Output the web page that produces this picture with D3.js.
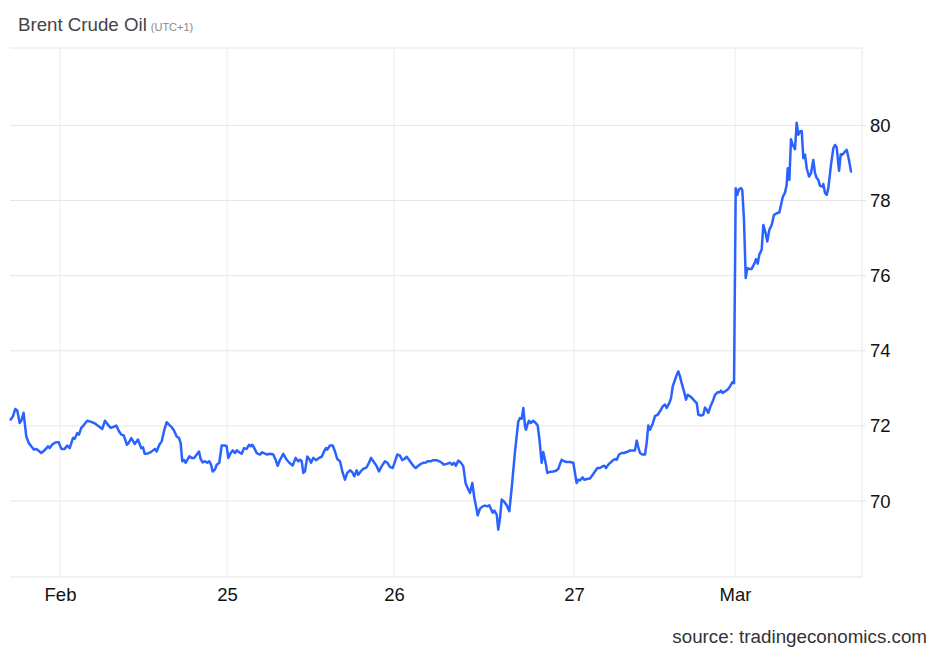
<!DOCTYPE html>
<html>
<head>
<meta charset="utf-8">
<script src="https://cdn.jsdelivr.net/npm/d3@7"></script>
<style>
  body { margin: 0; background: #ffffff; }
  text { font-family: "Liberation Sans", Arial, sans-serif; }
</style>
</head>
<body>
<div id="grafiekContainer"></div>
<script>

// handelsuren (vanaf de "Feb" streep) en de koers van Brent
var uren = [
  -7.04, -6.71, -6.39, -6.1, -5.76, -5.53, -5.19, -5.04, -4.81, -4.47, -4.1, -3.71, -3.39, -3.04,
  -2.67, -2.29, -1.96, -1.71, -1.47, -1.14, -0.67, -0.19, 0.19, 0.67, 1.04, 1.39, 1.86, 2.1,
  2.47, 2.71, 3.04, 3.43, 3.9, 4.47, 5.04, 5.53, 6.04, 6.43, 6.86, 7.24, 7.71, 8.04, 8.43,
  8.76, 9.1, 9.57, 9.81, 10.19, 10.67, 11.14, 11.61, 11.86, 12.1, 12.57, 13.04, 13.57, 13.81,
  14.19, 14.53, 14.86, 15.24, 15.61, 15.96, 16.29, 16.67, 17.0, 17.24, 17.47, 17.71, 17.96,
  18.19, 18.47, 18.81, 19.19, 19.53, 19.86, 20.1, 20.39, 20.71, 21.04, 21.33, 21.57, 21.81,
  22.14, 22.39, 22.76, 23.1, 23.57, 23.81, 24.04, 24.39, 24.67, 25.0, 25.24, 25.61, 25.96,
  26.29, 26.67, 27.0, 27.24, 27.47, 27.76, 28.1, 28.57, 28.9, 29.29, 29.61, 30.0, 30.47,
  30.81, 31.1, 31.43, 31.9, 32.39, 32.76, 33.24, 33.67, 34.04, 34.29, 34.53, 34.76, 35.0,
  35.33, 35.61, 35.86, 36.19, 36.57, 37.0, 37.39, 37.71, 38.0, 38.19, 38.57, 38.96, 39.29,
  39.61, 40.0, 40.39, 40.71, 41.04, 41.43, 41.76, 42.04, 42.39, 42.61, 42.96, 43.33, 43.81,
  44.14, 44.43, 44.76, 45.24, 45.57, 45.96, 46.43, 46.76, 47.14, 47.53, 47.86, 48.19, 48.57,
  48.9, 49.19, 49.53, 50.0, 50.47, 50.81, 51.19, 51.53, 51.9, 52.29, 52.53, 52.96, 53.33,
  53.81, 54.19, 54.53, 54.86, 55.24, 55.71, 56.04, 56.29, 56.57, 56.9, 57.24, 57.61, 57.96,
  58.33, 58.57, 58.9, 59.19, 59.53, 59.67, 60.0, 60.39, 60.71, 61.04, 61.33, 61.57, 61.81,
  62.04, 62.39, 62.61, 62.86, 63.1, 63.43, 63.81, 64.19, 64.53, 65.0, 65.47, 65.71, 65.96,
  66.19, 66.43, 66.57, 66.76, 67.0, 67.24, 67.61, 67.96, 68.24, 68.47, 68.81, 69.04, 69.43,
  69.61, 70.0, 70.47, 70.86, 71.19, 71.43, 71.67, 72.0, 72.39, 72.86, 73.33, 73.57, 73.81,
  74.04, 74.29, 74.67, 74.9, 75.24, 75.71, 76.1, 76.43, 76.76, 77.14, 77.53, 77.76, 78.0,
  78.33, 78.67, 78.96, 79.29, 79.53, 79.86, 80.24, 80.57, 80.86, 81.19, 81.43, 81.81, 82.14,
  82.39, 82.61, 82.86, 83.19, 83.57, 83.81, 84.04, 84.29, 84.67, 85.0, 85.39, 85.71, 86.1,
  86.43, 86.67, 87.04, 87.29, 87.53, 87.86, 88.1, 88.33, 88.57, 88.81, 89.14, 89.43, 89.67,
  90.0, 90.33, 90.71, 90.96, 91.19, 91.57, 91.9, 92.14, 92.39, 92.61, 92.96, 93.24, 93.57,
  93.96, 94.19, 94.43, 94.67, 95.0, 95.39, 95.71, 96.04, 96.29, 96.53, 96.76, 97.0, 97.29,
  97.47, 97.71, 97.96, 98.19, 98.43, 98.81, 99.19, 99.43, 99.67, 99.9, 100.24, 100.47, 100.81,
  101.04, 101.33, 101.67, 102.0, 102.39, 102.76, 103.0, 103.24, 103.57, 103.81, 103.96, 104.19,
  104.43, 104.67, 105.0, 105.24, 105.47, 105.71, 105.96, 106.19, 106.43, 106.67, 107.0, 107.29,
  107.61, 107.86, 108.1, 108.33, 108.57, 108.9, 109.04, 109.29, 109.53, 109.76, 110.14, 110.47,
  110.71, 110.96, 111.29, 111.53, 111.76, 112.04, 112.39, 112.71, 113.0
];

var koers = [
  72.17, 72.26, 72.45, 72.41, 72.08, 72.14, 72.35, 72.08, 71.72, 71.55, 71.46, 71.37, 71.39, 71.34,
  71.28, 71.34, 71.40, 71.46, 71.41, 71.50, 71.56, 71.57, 71.39, 71.39, 71.48, 71.41, 71.68, 71.66,
  71.81, 71.77, 71.95, 72.03, 72.14, 72.11, 72.06, 71.99, 71.92, 72.14, 72.03, 71.95, 71.98, 72.01, 71.86,
  71.77, 71.75, 71.50, 71.55, 71.68, 71.52, 71.64, 71.41, 71.43, 71.26, 71.27, 71.31, 71.39, 71.32,
  71.50, 71.59, 71.86, 72.10, 72.03, 71.97, 71.88, 71.72, 71.68, 71.55, 71.06, 71.10, 71.02,
  71.10, 71.19, 71.15, 71.15, 71.24, 71.32, 71.12, 71.03, 71.06, 71.02, 71.06, 70.97, 70.79,
  70.84, 70.97, 71.02, 71.48, 71.48, 71.46, 71.15, 71.28, 71.35, 71.28, 71.35, 71.30, 71.26,
  71.41, 71.39, 71.50, 71.46, 71.50, 71.41, 71.28, 71.24, 71.30, 71.26, 71.24, 71.26, 71.24,
  71.10, 70.94, 71.10, 71.26, 71.10, 71.02, 70.95, 71.15, 71.06, 71.10, 71.06, 70.75, 70.79,
  71.19, 71.12, 71.02, 71.15, 71.09, 71.15, 71.18, 71.32, 71.41, 71.37, 71.48, 71.48, 71.32,
  71.12, 71.06, 70.75, 70.57, 70.75, 70.82, 70.77, 70.66, 70.82, 70.70, 70.79, 70.86, 70.90,
  71.02, 71.15, 71.06, 70.93, 70.79, 70.93, 71.06, 71.02, 70.91, 70.88, 71.06, 71.24, 71.21,
  71.09, 71.12, 71.18, 71.06, 70.94, 70.88, 70.94, 70.99, 71.02, 71.03, 71.06, 71.06, 71.09,
  71.09, 71.06, 71.02, 70.97, 70.99, 71.02, 70.97, 71.02, 70.94, 71.08, 71.03, 70.93, 70.46,
  70.31, 70.22, 70.48, 70.09, 69.77, 69.62, 69.80, 69.86, 69.88, 69.86, 69.89, 69.79, 69.69,
  69.75, 69.64, 69.24, 69.55, 70.04, 69.99, 69.89, 69.73, 70.35, 71.32, 72.12, 72.21, 72.19,
  72.48, 71.99, 71.90, 72.03, 72.14, 72.08, 72.14, 72.08, 72.01, 71.68, 71.02, 71.31, 70.97,
  70.75, 70.78, 70.79, 70.81, 70.86, 70.99, 71.10, 71.06, 71.04, 71.04, 71.02, 70.75, 70.48,
  70.57, 70.55, 70.63, 70.57, 70.59, 70.60, 70.70, 70.79, 70.88, 70.88, 70.93, 70.94, 70.88,
  70.97, 71.03, 71.08, 71.12, 71.10, 71.24, 71.28, 71.28, 71.30, 71.32, 71.35, 71.35, 71.35,
  71.61, 71.44, 71.28, 71.24, 71.24, 71.55, 72.01, 71.90, 72.06, 72.26, 72.30, 72.39, 72.52,
  72.57, 72.48, 72.61, 72.74, 73.05, 73.23, 73.36, 73.45, 73.32, 73.14, 72.92, 72.70, 72.83,
  72.79, 72.74, 72.65, 72.61, 72.30, 72.28, 72.30, 72.49, 72.43, 72.35, 72.54, 72.65, 72.83,
  72.90, 72.89, 72.94, 72.88, 72.92, 72.97, 73.05, 73.16, 73.14, 78.33, 78.15, 78.30, 78.33,
  78.28, 77.49, 75.94, 76.20, 76.18, 76.18, 76.32, 76.44, 76.32, 76.56, 76.69, 77.35, 77.13,
  76.91, 77.22, 77.35, 77.62, 77.66, 77.68, 77.88, 78.09, 78.21, 78.42, 78.86, 78.55,
  79.63, 79.48, 79.37, 80.07, 79.75, 79.84, 79.85, 79.13, 79.22, 78.86, 78.64, 78.73,
  79.08, 78.73, 78.60, 78.55, 78.39, 78.37, 78.44, 78.20, 78.15, 78.33, 78.95, 79.39,
  79.48, 79.41, 78.79, 79.23, 79.22, 79.28, 79.35, 79.08, 78.77
];

// as labels
var yTicks = [70, 72, 74, 76, 78, 80];
var xTickUren = [0, 23.86, 47.71, 73.43, 96.43];
var xTickLabels = ["Feb", "25", "26", "27", "Mar"];

var breedte = 940;
var hoogte = 652;

// marges vast leggen (randen van het plotvlak)
var plot = {links: 10, rechts: 862, boven: 48, beneden: 577};

var data = uren.map(function(u, i) {
  return {uur: u, koers: koers[i]};
});

// maak een SVG element
var svg = d3.select("#grafiekContainer")
            .append("svg")
            .attr("width", breedte)
            .attr("height", hoogte);

// schaalfuncties
var x = d3.scaleLinear()
          .domain([-7.14, 114.57])
          .range([plot.links, plot.rechts]);

var y = d3.scaleLinear()
          .domain([67.98, 82.06])
          .range([plot.beneden, plot.boven]);

// verticale rasterlijnen
svg.selectAll(".xRaster")
   .data(xTickUren)
   .enter()
   .append("line")
   .attr("class", "xRaster")
   .attr("x1", function(d) { return x(d); })
   .attr("x2", function(d) { return x(d); })
   .attr("y1", plot.boven)
   .attr("y2", plot.beneden)
   .attr("stroke", "#e8eef3")
   .attr("stroke-width", 1);

// horizontale rasterlijnen
svg.selectAll(".yRaster")
   .data(yTicks)
   .enter()
   .append("line")
   .attr("class", "yRaster")
   .attr("x1", plot.links)
   .attr("x2", plot.rechts + 4)
   .attr("y1", function(d) { return y(d); })
   .attr("y2", function(d) { return y(d); })
   .attr("stroke", "#e6e6e6")
   .attr("stroke-width", 1);

// bovenrand, onderrand en rechterrand
svg.append("line")
   .attr("x1", plot.links).attr("x2", plot.rechts)
   .attr("y1", plot.boven).attr("y2", plot.boven)
   .attr("stroke", "#e6e6e6");

svg.append("line")
   .attr("x1", plot.links).attr("x2", plot.rechts)
   .attr("y1", plot.beneden).attr("y2", plot.beneden)
   .attr("stroke", "#e3e3e3");

svg.append("line")
   .attr("x1", plot.rechts).attr("x2", plot.rechts)
   .attr("y1", plot.boven).attr("y2", plot.beneden)
   .attr("stroke", "#e6e6e6");

// y-as met waarden rechts
var asY = d3.axisRight(y)
            .tickValues(yTicks)
            .tickSize(0)
            .tickPadding(0);

svg.append("g")
   .attr("class", "yAs")
   .attr("transform", "translate(" + (plot.rechts + 8) + ",0)")
   .call(asY)
   .call(function(g) { g.select(".domain").remove(); })
   .selectAll("text")
   .attr("font-family", "Liberation Sans, Arial, sans-serif")
   .attr("font-size", "18.5px")
   .attr("fill", "#111");

// x-as met dagen
var asX = d3.axisBottom(x)
            .tickValues(xTickUren)
            .tickFormat(function(d, i) { return xTickLabels[i]; })
            .tickSize(0)
            .tickPadding(0);

svg.append("g")
   .attr("class", "xAs")
   .attr("transform", "translate(0," + (plot.beneden + 11) + ")")
   .call(asX)
   .call(function(g) { g.select(".domain").remove(); })
   .selectAll("text")
   .attr("font-family", "Liberation Sans, Arial, sans-serif")
   .attr("font-size", "18.5px")
   .attr("fill", "#111");

// de koerslijn
var lijn = d3.line()
             .x(function(d) { return x(d.uur); })
             .y(function(d) { return y(d.koers); });

svg.append("path")
   .datum(data)
   .attr("d", lijn)
   .attr("fill", "none")
   .attr("stroke", "#2962ff")
   .attr("stroke-width", 2.5)
   .attr("stroke-linejoin", "round")
   .attr("stroke-linecap", "round");

// titel
var titel = svg.append("text")
               .attr("x", 18)
               .attr("y", 31)
               .attr("font-size", "18.7px")
               .attr("fill", "#444");

titel.append("tspan").text("Brent Crude Oil");
titel.append("tspan")
     .attr("dx", 4)
     .attr("font-size", "11px")
     .attr("fill", "#888")
     .text("(UTC+1)");

// bron
svg.append("text")
   .attr("x", 927)
   .attr("y", 643)
   .attr("text-anchor", "end")
   .attr("font-size", "18.8px")
   .attr("fill", "#333")
   .text("source: tradingeconomics.com");

</script>
</body>
</html>
